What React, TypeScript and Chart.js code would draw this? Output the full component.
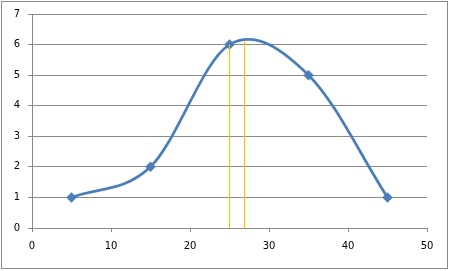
import React, { useEffect, useRef } from "react";
import { Chart, registerables } from "chart.js";

Chart.register(...registerables);

const xValues = [5, 15, 25, 35, 45];
const yValues = [1, 2, 6, 5, 1];
const markerLineX = [25, 25];
const markerLineY = [0, 6];
const peakLineX = [26.9, 26.9];
const peakLineY = [0, 6.12];
const xTicks = [0, 10, 20, 30, 40, 50];
const yTicks = [0, 1, 2, 3, 4, 5, 6, 7];

const GRAY = "#8a8a8a";

const borderPlugin = {
  id: "outerBorder",
  afterDraw(chart: any) {
    const ctx = chart.ctx;
    ctx.save();
    ctx.strokeStyle = GRAY;
    ctx.lineWidth = 1;
    ctx.strokeRect(1.5, 1.5, 446, 267);
    ctx.restore();
  },
};

// Excel-like smoothing (uniform Catmull-Rom) applied to the library's points
const smoothPlugin = {
  id: "excelSmooth",
  beforeDatasetDraw(chart: any, args: any) {
    if (args.index !== 2) return;
    const meta = args.meta;
    const pts = meta.data;
    const n = pts.length;
    for (let i = 0; i < n; i++) {
      const p = pts[i];
      const prev = pts[Math.max(0, i - 1)];
      const next = pts[Math.min(n - 1, i + 1)];
      let f = 1 / 6;
      if (i === 0 || i === n - 1) f = 1 / 3;
      const tx = (next.x - prev.x) * f;
      const ty = (next.y - prev.y) * f;
      p.cp1x = p.x - tx;
      p.cp1y = p.y - ty;
      p.cp2x = p.x + tx;
      p.cp2y = p.y + ty;
    }
    if (meta.dataset) meta.dataset._pointsUpdated = true;
  },
};

export default function App() {
  const ref = useRef<HTMLCanvasElement | null>(null);
  useEffect(() => {
    if (!ref.current) return;
    const pts = xValues.map((x, i) => ({ x, y: yValues[i] }));
    const l1 = markerLineX.map((x, i) => ({ x, y: markerLineY[i] }));
    const l2 = peakLineX.map((x, i) => ({ x, y: peakLineY[i] }));
    const chart = new Chart(ref.current, {
      type: "scatter",
      data: {
        datasets: [
          {
            data: l1,
            showLine: true,
            borderColor: "#FFC000",
            borderWidth: 1,
            pointRadius: 0,
            tension: 0,
          },
          {
            data: l2,
            showLine: true,
            borderColor: "#FFC000",
            borderWidth: 1.2,
            pointRadius: 0,
            tension: 0,
          },
          {
            data: pts,
            showLine: true,
            borderColor: "#4A7EBB",
            backgroundColor: "#4A7EBB",
            borderWidth: 2.75,
            tension: 0.4,
            pointStyle: "rectRot",
            pointRadius: 5,
            pointBorderWidth: 0.5,
          },
        ],
      },
      options: {
        animation: false,
        responsive: false,
        devicePixelRatio: 1,
        layout: { padding: { left: 0, top: 14, right: 23, bottom: 0 } },
        plugins: { legend: { display: false }, tooltip: { enabled: false } },
        scales: {
          x: {
            type: "linear",
            min: 0,
            max: 50,
            afterBuildTicks: (s: any) => {
              s.ticks = xTicks.map((v) => ({ value: v }));
            },
            afterFit: (s: any) => {
              s.height = 43;
            },
            grid: {
              drawOnChartArea: false,
              drawTicks: true,
              tickLength: 4,
              color: GRAY,
            },
            border: { color: GRAY },
            ticks: {
              padding: 8,
              color: "#000",
              font: { family: "DejaVu Sans", size: 10 },
              maxRotation: 0,
            },
          },
          y: {
            type: "linear",
            min: 0,
            max: 7,
            afterBuildTicks: (s: any) => {
              s.ticks = yTicks.map((v) => ({ value: v }));
            },
            afterFit: (s: any) => {
              s.width = 32;
            },
            grid: {
              drawTicks: true,
              tickLength: 4,
              color: GRAY,
            },
            border: { color: GRAY },
            ticks: {
              padding: 8,
              color: "#000",
              font: { family: "DejaVu Sans", size: 10 },
            },
          },
        },
      },
      plugins: [borderPlugin, smoothPlugin],
    });
    return () => chart.destroy();
  }, []);
  return (
    <div style={{ position: "absolute", left: 0, top: 0, width: 450, height: 271, background: "#fff" }}>
      <canvas ref={ref} width={450} height={271} style={{ width: 450, height: 271 }} />
    </div>
  );
}
